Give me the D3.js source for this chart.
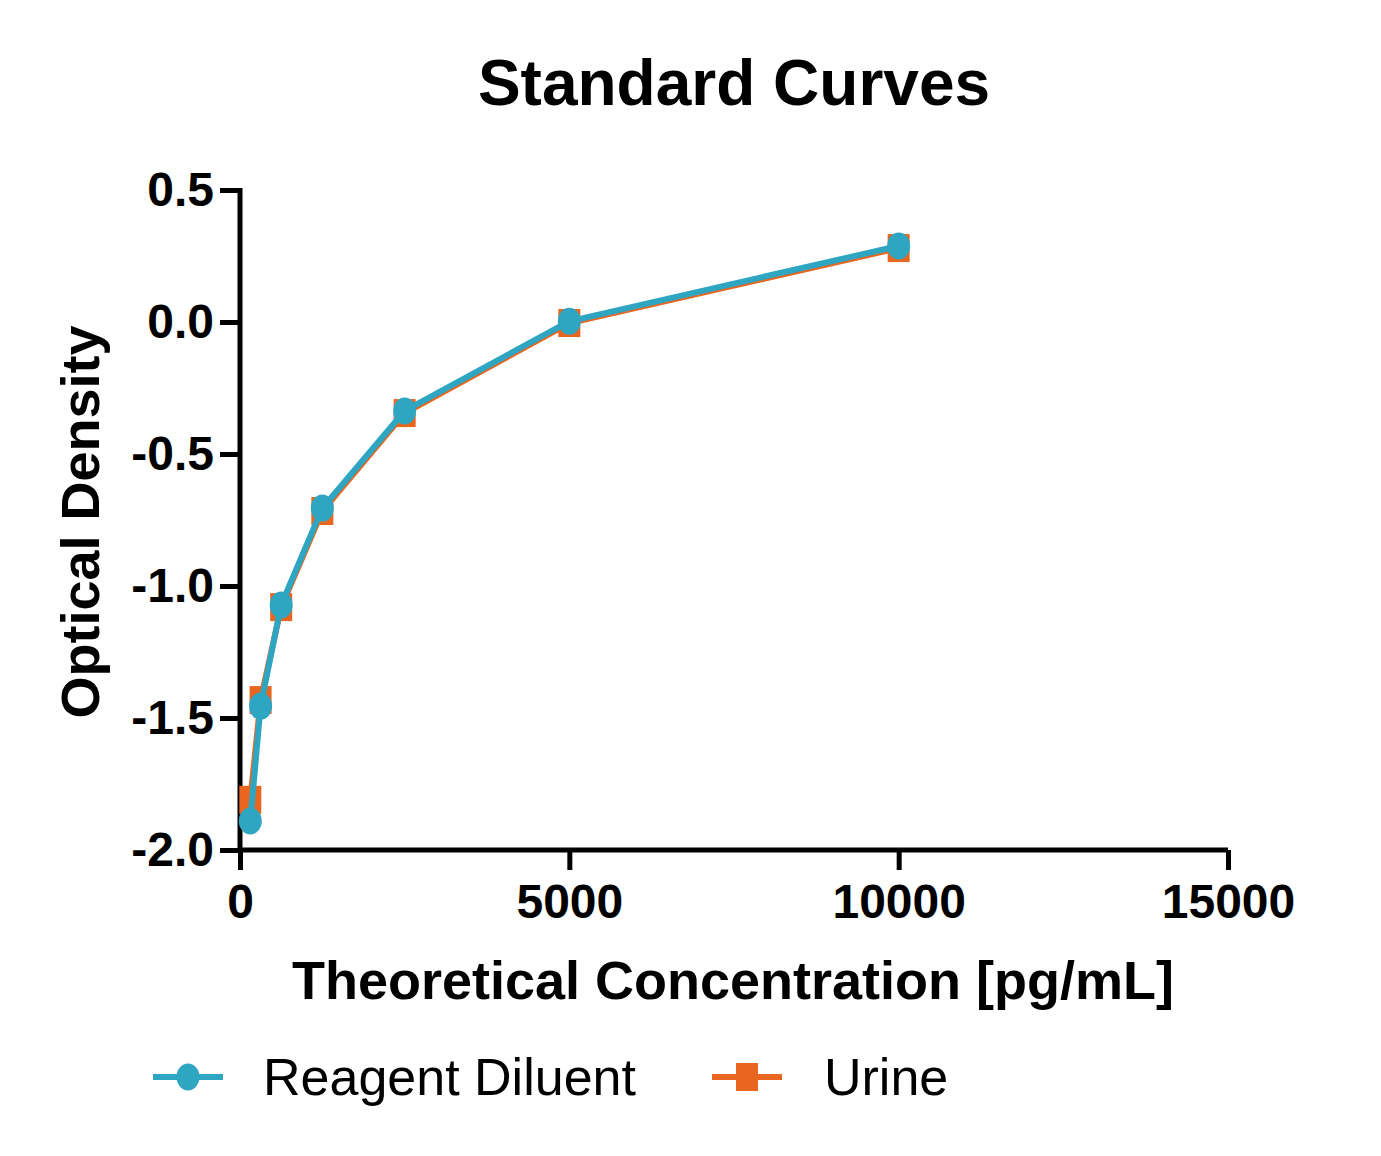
<!DOCTYPE html>
<html lang="en">
<head>
  <meta charset="UTF-8">
  <title>Standard Curves</title>
  <script src="https://d3js.org/d3.v7.min.js"></script>
  <style>
    body {
      margin: 0;
      padding: 0;
      background: #fff;
      font-family: "Liberation Sans", Arial, Helvetica, sans-serif;
    }
    .axis path, .axis line {
      stroke: #000;
      stroke-width: 5px;
    }
    .axis text {
      font-size: 48px;
      font-weight: bold;
      fill: #000;
    }
  </style>
</head>
<body>
<div id="chart"></div>

<script>
  // Data
  const concentrations = [156.25, 312.5, 625, 1250, 2500, 5000, 10000];
  const reagentDiluent = [-1.89, -1.455, -1.072, -0.705, -0.337, 0.003, 0.288];
  const urine = [-1.81, -1.432, -1.08, -0.716, -0.345, -0.004, 0.28];
  const xTicks = [0, 5000, 10000, 15000];
  const yTicks = [-2.0, -1.5, -1.0, -0.5, 0.0, 0.5];

  const width = 1381, height = 1156;
  const blue = "#2ea5c1", orange = "#e8661f";

  const svg = d3.select("#chart")
    .append("svg")
    .attr("width", width)
    .attr("height", height);

  const x = d3.scaleLinear().domain([0, 15000]).range([240, 1228]);
  const y = d3.scaleLinear().domain([-2, 0.5]).range([850, 190]);

  // plain hyphen instead of d3's unicode minus
  const yFmt = d => d3.format(".1f")(d).replace("\u2212", "-");

  // axes
  svg.append("g")
    .attr("class", "axis")
    .attr("transform", "translate(0,850)")
    .call(d3.axisBottom(x).tickValues(xTicks).tickSize(20).tickPadding(14).tickFormat(d3.format("d")))
    .call(g => g.select(".domain").attr("d", "M240,0H1228"));

  svg.append("g")
    .attr("class", "axis")
    .attr("transform", "translate(240,0)")
    .call(d3.axisLeft(y).tickValues(yTicks).tickSize(20).tickPadding(6).tickFormat(yFmt))
    .call(g => g.select(".domain").attr("d", "M0,188V852"));

  svg.selectAll(".axis text").style("font-family", "'Liberation Sans', Arial, sans-serif");

  const series = [
    { name: "Urine", values: urine, color: orange, shape: "square" },
    { name: "Reagent Diluent", values: reagentDiluent, color: blue, shape: "circle" }
  ];

  const line = d3.line()
    .x((d, i) => x(concentrations[i]))
    .y(d => y(d));

  function marker(sel, s) {
    if (s.shape === "circle") {
      sel.append("ellipse").attr("rx", 11.5).attr("ry", 13.5).attr("fill", s.color);
    } else {
      sel.append("rect").attr("x", -11).attr("y", -14).attr("width", 22).attr("height", 28).attr("fill", s.color);
    }
  }

  series.forEach(s => {
    svg.append("path")
      .datum(s.values)
      .attr("fill", "none")
      .attr("stroke", s.color)
      .attr("stroke-width", 6)
      .attr("d", line);

    svg.selectAll(null)
      .data(s.values)
      .enter()
      .append("g")
      .attr("transform", (d, i) => `translate(${x(concentrations[i])},${y(d)})`)
      .each(function() { marker(d3.select(this), s); });
  });

  // titles
  svg.append("text")
    .attr("x", 734).attr("y", 105)
    .attr("text-anchor", "middle")
    .style("font-size", "64px").style("font-weight", "bold")
    .text("Standard Curves");

  svg.append("text")
    .attr("x", 733).attr("y", 999)
    .attr("text-anchor", "middle")
    .style("font-size", "54px").style("font-weight", "bold")
    .text("Theoretical Concentration [pg/mL]");

  svg.append("text")
    .attr("transform", "translate(99,522) rotate(-90)")
    .attr("text-anchor", "middle")
    .style("font-size", "54px").style("font-weight", "bold")
    .text("Optical Density");

  // legend
  const legendItems = [
    { name: "Reagent Diluent", color: blue, shape: "circle", x0: 153, tx: 263 },
    { name: "Urine", color: orange, shape: "square", x0: 712, tx: 824 }
  ];
  legendItems.forEach(s => {
    const g = svg.append("g").attr("transform", `translate(${s.x0},1077)`);
    g.append("line").attr("x1", 0).attr("x2", 70).attr("stroke", s.color).attr("stroke-width", 6);
    const m = g.append("g").attr("transform", "translate(35,0)");
    marker(m, s);
    svg.append("text")
      .attr("x", s.tx).attr("y", 1095)
      .style("font-size", "52px")
      .text(s.name);
  });
</script>
</body>
</html>
